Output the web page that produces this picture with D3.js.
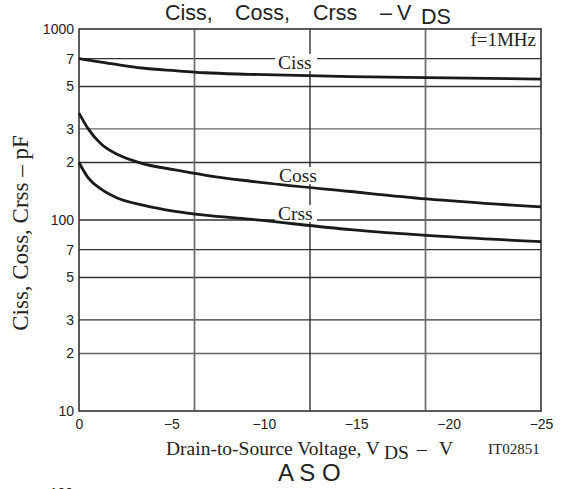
<!DOCTYPE html>
<html>
<head>
<meta charset="utf-8">
<script src="https://cdn.jsdelivr.net/npm/d3@7"></script>
<style>
  body { margin: 0; background: #fff; }
  svg { display: block; }
</style>
</head>
<body>
<div id="chart"></div>
<script>
// Capacitance vs drain-source voltage
const vds = [0, -0.5, -1.2, -2.1, -3.4, -5.2, -6.8, -9.2, -14.7, -18.8, -25];
const ciss = [700, 688, 670, 650, 625, 605, 590, 579, 563, 556, 547];
const coss = [363, 300, 250, 220, 198, 183, 172, 160, 141, 129, 117];
const crss = [200, 166, 145, 130, 120, 111, 106, 101, 89, 83, 77];

const xTicks = [0, -5, -10, -15, -20, -25];
const xGrid = [-6.25, -12.5, -18.75];
const yTicks = [10, 20, 30, 50, 70, 100, 200, 300, 500, 700, 1000];
const yTickLabels = ["10", "2", "3", "5", "7", "100", "2", "3", "5", "7", "1000"];
const yGrid = [20, 30, 50, 70, 100, 200, 300, 500, 700];

const W = 562, H = 489;
const sans = "'Liberation Sans', Arial, sans-serif";
const serif = "'Liberation Serif', 'Times New Roman', serif";

const svg = d3.select("#chart").append("svg")
  .attr("width", W).attr("height", H);

const x = d3.scaleLinear().domain([0, -25]).range([79, 541]);
const y = d3.scaleLog().domain([10, 1000]).range([411, 29]);

// Grid
svg.append("g").selectAll("line")
  .data(yGrid)
  .join("line")
  .attr("x1", x(0)).attr("x2", x(-25))
  .attr("y1", d => y(d)).attr("y2", d => y(d))
  .attr("stroke", d => (d === 300 || d === 20 ? "#666" : "#333"))
  .attr("stroke-width", 1.3);

svg.append("g").selectAll("line")
  .data(xGrid)
  .join("line")
  .attr("x1", d => x(d)).attr("x2", d => x(d))
  .attr("y1", y(1000)).attr("y2", y(10))
  .attr("stroke", d => (d === -12.5 ? "#222" : "#6a6a6a"))
  .attr("stroke-width", d => (d === -12.5 ? 1.3 : 1.7));

// Frame
svg.append("rect")
  .attr("x", x(0)).attr("y", y(1000))
  .attr("width", x(-25) - x(0)).attr("height", y(10) - y(1000))
  .attr("fill", "none").attr("stroke", "#333").attr("stroke-width", 1.6);

// Axes
const xAxis = svg.append("g")
  .attr("transform", `translate(0,${y(10)})`)
  .call(d3.axisBottom(x).tickValues(xTicks).tickSize(0).tickPadding(8)
    .tickFormat(d => (d === 0 ? "0" : "\u2212" + Math.abs(d))));
xAxis.select(".domain").remove();
xAxis.selectAll("text").style("font-family", sans).style("font-size", "14px").attr("fill", "#222");

const yAxis = svg.append("g")
  .attr("transform", `translate(${x(0)},0)`)
  .call(d3.axisLeft(y).tickValues(yTicks).tickSize(0).tickPadding(5)
    .tickFormat((d, i) => yTickLabels[i]));
yAxis.select(".domain").remove();
yAxis.selectAll("text").style("font-family", sans).style("font-size", "14px").attr("fill", "#222");

// Curve labels (white boxes cut the grid)
const labels = [
  { t: "Ciss", x: 278, y: 69 },
  { t: "Coss", x: 279, y: 182 },
  { t: "Crss", x: 278, y: 220 }
];
svg.append("g").selectAll("rect")
  .data(labels)
  .join("rect")
  .attr("x", d => d.x - 3).attr("y", d => d.y - 15)
  .attr("width", 42).attr("height", 17)
  .attr("fill", "#fff");
svg.append("g").selectAll("text")
  .data(labels)
  .join("text")
  .attr("x", d => d.x).attr("y", d => d.y)
  .style("font-family", serif).style("font-size", "19.5px")
  .attr("fill", "#222")
  .text(d => d.t);

// Curves
const line = d3.line()
  .x(d => x(d[0]))
  .y(d => y(d[1]))
  .curve(d3.curveMonotoneX);

[ciss, coss, crss].forEach(s => {
  svg.append("path")
    .datum(vds.map((v, i) => [v, s[i]]))
    .attr("d", line)
    .attr("fill", "none")
    .attr("stroke", "#1a1a1a")
    .attr("stroke-width", 2.8);
});

// f=1MHz
svg.append("text")
  .attr("x", 536).attr("y", 46)
  .attr("text-anchor", "end")
  .style("font-family", serif).style("font-size", "19px")
  .attr("fill", "#222")
  .text("f=1MHz");

// Title
const title = svg.append("text")
  .attr("y", 19.5)
  .style("font-family", sans).style("font-size", "21.5px")
  .attr("fill", "#222");
title.append("tspan").attr("x", 165).text("Ciss,");
title.append("tspan").attr("x", 235).text("Coss,");
title.append("tspan").attr("x", 313).text("Crss");
title.append("tspan").attr("x", 380).text("\u2013");
title.append("tspan").attr("x", 397).text("V");
title.append("tspan").attr("x", 421).attr("y", 24).text("DS");

// Y axis title
svg.append("text")
  .attr("transform", "translate(28,233) rotate(-90)")
  .attr("text-anchor", "middle")
  .style("font-family", serif).style("font-size", "23px")
  .attr("fill", "#222")
  .text("Ciss, Coss, Crss \u2013 pF");

// X axis title
const xt = svg.append("text")
  .attr("y", 454.5)
  .style("font-family", serif).style("font-size", "19.5px")
  .attr("fill", "#222");
xt.append("tspan").attr("x", 166).text("Drain-to-Source Voltage, V");
xt.append("tspan").attr("x", 384).attr("y", 458.5).text("DS");
xt.append("tspan").attr("x", 417).attr("y", 454.5).text("\u2013");
xt.append("tspan").attr("x", 439).text("V");

svg.append("text")
  .attr("x", 488).attr("y", 454)
  .style("font-family", serif).style("font-size", "15px")
  .attr("fill", "#222")
  .text("IT02851");

svg.append("text")
  .attr("x", 278).attr("y", 481)
  .style("font-family", sans).style("font-size", "24px")
  .attr("fill", "#222")
  .text("A S O");

// top of the next chart's tick label, cut at the page edge
svg.append("text")
  .attr("x", 73).attr("y", 498)
  .attr("text-anchor", "end")
  .style("font-family", sans).style("font-size", "14px")
  .attr("fill", "#222")
  .text("100");
</script>
</body>
</html>
